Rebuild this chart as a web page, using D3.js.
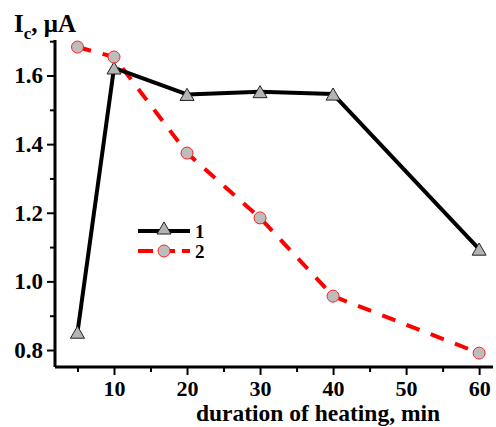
<!DOCTYPE html>
<html>
<head>
<meta charset="utf-8">
<script src="https://cdn.jsdelivr.net/npm/d3@7"></script>
<style>
  body { margin: 0; background: #fff; }
  svg text { font-family: "Liberation Serif", "Times New Roman", serif; font-weight: bold; }
</style>
</head>
<body>
<div id="chart"></div>
<script>
var times = [5, 10, 20, 30, 40, 60]
var series1 = [0.852, 1.622, 1.545, 1.553, 1.546, 1.094]
var series2 = [1.683, 1.654, 1.374, 1.185, 0.957, 0.791]
var xTicks = [10, 20, 30, 40, 50, 60]
var xMinor = [5, 15, 25, 35, 45, 55]
var yTicks = [0.8, 1.0, 1.2, 1.4, 1.6]
var yMinor = [0.9, 1.1, 1.3, 1.5, 1.7]

var width = 496, height = 427
var margin = {top: 40, right: 3, bottom: 60, left: 55}
var serif = "Liberation Serif, serif"

var svg = d3.select("#chart").append("svg")
	.attr("width", width)
	.attr("height", height)
	.attr("font-family", serif)

var x = d3.scaleLinear().domain([1.92, 61.9]).range([margin.left, width - margin.right])
var y = d3.scaleLinear().domain([0.7505, 1.7035]).range([height - margin.bottom, margin.top])

// axes
svg.append("g")
	.attr("transform", "translate(0," + (height - margin.bottom) + ")")
	.call(d3.axisBottom(x).tickValues(xMinor).tickSize(5).tickFormat(""))
	.call(g => g.select(".domain").remove())
	.selectAll("line").attr("stroke-width", 2)

svg.append("g")
	.attr("transform", "translate(0," + (height - margin.bottom) + ")")
	.call(d3.axisBottom(x).tickValues(xTicks).tickSize(8).tickPadding(5).tickFormat(d3.format("d")))
	.call(g => g.attr("font-family", serif))
	.call(g => g.select(".domain").attr("stroke-width", 3).attr("d", "M" + margin.left + ",0H" + (width - margin.right)))
	.call(g => g.selectAll("line").attr("stroke-width", 2))
	.call(g => g.selectAll("text").attr("font-size", 22).attr("fill", "#000"))

svg.append("g")
	.attr("transform", "translate(" + margin.left + ",0)")
	.call(d3.axisLeft(y).tickValues(yMinor).tickSize(5).tickFormat(""))
	.call(g => g.select(".domain").remove())
	.selectAll("line").attr("stroke-width", 2)

svg.append("g")
	.attr("transform", "translate(" + margin.left + ",0)")
	.call(d3.axisLeft(y).tickValues(yTicks).tickSize(8).tickPadding(4).tickFormat(d3.format(".1f")))
	.call(g => g.attr("font-family", serif))
	.call(g => g.select(".domain").attr("stroke-width", 3).attr("d", "M0," + margin.top + "V" + (height - margin.bottom)))
	.call(g => g.selectAll("line").attr("stroke-width", 2))
	.call(g => g.selectAll("text").attr("font-size", 23).attr("fill", "#000"))

// titles
var yt = svg.append("text").attr("x", 14).attr("y", 32).attr("font-size", 25)
yt.append("tspan").text("I")
yt.append("tspan").attr("font-size", 17).attr("dy", 7).text("c")
yt.append("tspan").attr("dy", -7).text(", μA")

svg.append("text")
	.attr("x", 318)
	.attr("y", 421)
	.attr("text-anchor", "middle")
	.attr("font-size", 23.5)
	.text("duration of heating, min")

var d1 = times.map((t, i) => [t, series1[i]])
var d2 = times.map((t, i) => [t, series2[i]])

var line = d3.line()
	.x(d => x(d[0]))
	.y(d => y(d[1]))

svg.append("path")
	.datum(d2)
	.attr("fill", "none")
	.attr("stroke", "#ff0000")
	.attr("stroke-width", 4)
	.attr("stroke-dasharray", "14 12")
	.attr("d", line)

svg.append("path")
	.datum(d1)
	.attr("fill", "none")
	.attr("stroke", "#000")
	.attr("stroke-width", 4)
	.attr("stroke-linejoin", "round")
	.attr("d", line)

var tri = d3.symbol().type(d3.symbolTriangle).size(85)

svg.selectAll(".tri")
	.data(d1)
	.enter().append("path")
	.attr("class", "tri")
	.attr("transform", d => "translate(" + x(d[0]) + "," + (y(d[1]) + 2) + ")")
	.attr("d", tri)
	.attr("fill", "#b4b4b4")
	.attr("stroke", "#222")
	.attr("stroke-width", 1)

svg.selectAll(".dot")
	.data(d2)
	.enter().append("circle")
	.attr("class", "dot")
	.attr("cx", d => x(d[0]))
	.attr("cy", d => y(d[1]))
	.attr("r", 6)
	.attr("fill", "#bdbdbd")
	.attr("stroke", "#ff2020")
	.attr("stroke-width", 1)

// legend
var leg = svg.append("g").attr("transform", "translate(138,231)")
leg.append("line").attr("x1", 0).attr("x2", 52).attr("y1", 0).attr("y2", 0)
	.attr("stroke", "#000").attr("stroke-width", 4)
leg.append("path").attr("transform", "translate(26,-1)").attr("d", tri)
	.attr("fill", "#b4b4b4").attr("stroke", "#222").attr("stroke-width", 1)
leg.append("text").attr("x", 57).attr("y", 7).attr("font-size", 19).text("1")

leg.append("line").attr("x1", 0).attr("x2", 52).attr("y1", 20).attr("y2", 20)
	.attr("stroke", "#ff0000").attr("stroke-width", 4).attr("stroke-dasharray", "15 7")
leg.append("circle").attr("cx", 26).attr("cy", 20).attr("r", 6)
	.attr("fill", "#bdbdbd").attr("stroke", "#ff2020").attr("stroke-width", 1)
leg.append("text").attr("x", 57).attr("y", 27).attr("font-size", 19).text("2")
</script>
</body>
</html>
